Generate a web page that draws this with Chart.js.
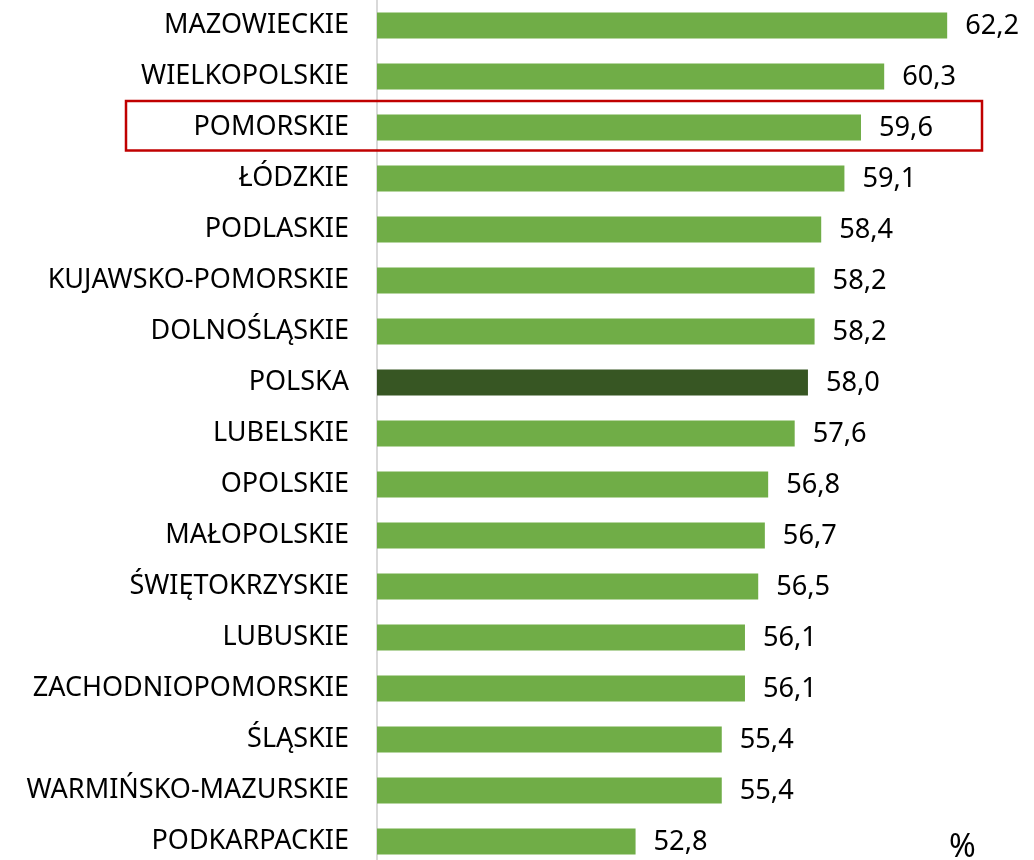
<!DOCTYPE html>
<html>
<head>
<meta charset="utf-8">
<script src="https://cdn.jsdelivr.net/npm/chart.js@4/dist/chart.umd.min.js"></script>
<style>
  html, body { margin: 0; padding: 0; background: #ffffff; overflow: hidden; }
  #wrap { position: absolute; left: 0; top: 0; width: 1040px; height: 867px; }
</style>
</head>
<body>
<div id="wrap"><canvas id="c"></canvas></div>
<script>
const categories = [
  'MAZOWIECKIE', 'WIELKOPOLSKIE', 'POMORSKIE', 'ŁÓDZKIE', 'PODLASKIE',
  'KUJAWSKO-POMORSKIE', 'DOLNOŚLĄSKIE', 'POLSKA', 'LUBELSKIE', 'OPOLSKIE',
  'MAŁOPOLSKIE', 'ŚWIĘTOKRZYSKIE', 'LUBUSKIE', 'ZACHODNIOPOMORSKIE', 'ŚLĄSKIE',
  'WARMIŃSKO-MAZURSKIE', 'PODKARPACKIE'
];
const values = [62.2, 60.3, 59.6, 59.1, 58.4, 58.2, 58.2, 58.0, 57.6, 56.8, 56.7, 56.5, 56.1, 56.1, 55.4, 55.4, 52.8];
const highlightCategory = 'POMORSKIE';
const nationalCategory = 'POLSKA';
const unitLabel = '%';
const axisMin = 45;
const axisMax = 65;

const FONT = "'Noto Sans', 'Open Sans', sans-serif";

// fit font sizes to the reference text widths
const mctx = document.createElement('canvas').getContext('2d');
function fitSize(text, targetWidth) {
  mctx.font = "100px " + FONT;
  return Math.round(100 * targetWidth / mctx.measureText(text).width * 10) / 10;
}
const labelSize = fitSize('ZACHODNIOPOMORSKIE', 316);
const valueSize = fitSize('62,2', 54);

const barColors = categories.map(c => c === nationalCategory ? '#375623' : '#70ad47');

const annotations = {
  id: 'annotations',
  afterDatasetsDraw(chart) {
    const ctx = chart.ctx;
    const meta = chart.getDatasetMeta(0);
    ctx.save();
    ctx.fillStyle = '#000000';
    ctx.font = valueSize + "px " + FONT;
    ctx.textAlign = 'left';
    ctx.textBaseline = 'middle';
    meta.data.forEach((bar, i) => {
      const txt = values[i].toFixed(1).replace('.', ',');
      ctx.fillText(txt, bar.x + 18, bar.y + 1);
    });
    // highlight box
    const ys = chart.scales.y;
    const idx = categories.indexOf(highlightCategory);
    const yc = ys.getPixelForValue(idx);
    const area = chart.chartArea;
    ctx.strokeStyle = '#c00000';
    ctx.lineWidth = 2.5;
    ctx.strokeRect(area.left - 251, yc - 26.5, 856, 49.5);
    // unit label
    ctx.font = (valueSize + 5) + "px " + FONT;
    ctx.textBaseline = 'alphabetic';
    ctx.fillText(unitLabel, area.left + 572, area.bottom - 10);
    ctx.restore();
  }
};

new Chart(document.getElementById('c'), {
  type: 'bar',
  data: {
    labels: categories,
    datasets: [{
      data: values,
      backgroundColor: barColors,
      borderWidth: 0,
      barPercentage: 0.51,
      categoryPercentage: 1.0
    }]
  },
  options: {
    indexAxis: 'y',
    responsive: true,
    maintainAspectRatio: false,
    animation: false,
    layout: { padding: 0 },
    plugins: { legend: { display: false }, tooltip: { enabled: false } },
    scales: {
      x: {
        display: false,
        min: axisMin,
        max: axisMax
      },
      y: {
        grid: { display: false, drawTicks: false },
        border: { display: true, color: '#d9d9d9', width: 2 },
        ticks: {
          color: '#000000',
          font: { family: FONT, size: labelSize },
          padding: 28,
          autoSkip: false
        },
        afterFit(scale) {
          scale.width = 377;
          scale.paddingTop = 0;
          scale.paddingBottom = 0;
        }
      }
    }
  },
  plugins: [annotations]
});
</script>
</body>
</html>
